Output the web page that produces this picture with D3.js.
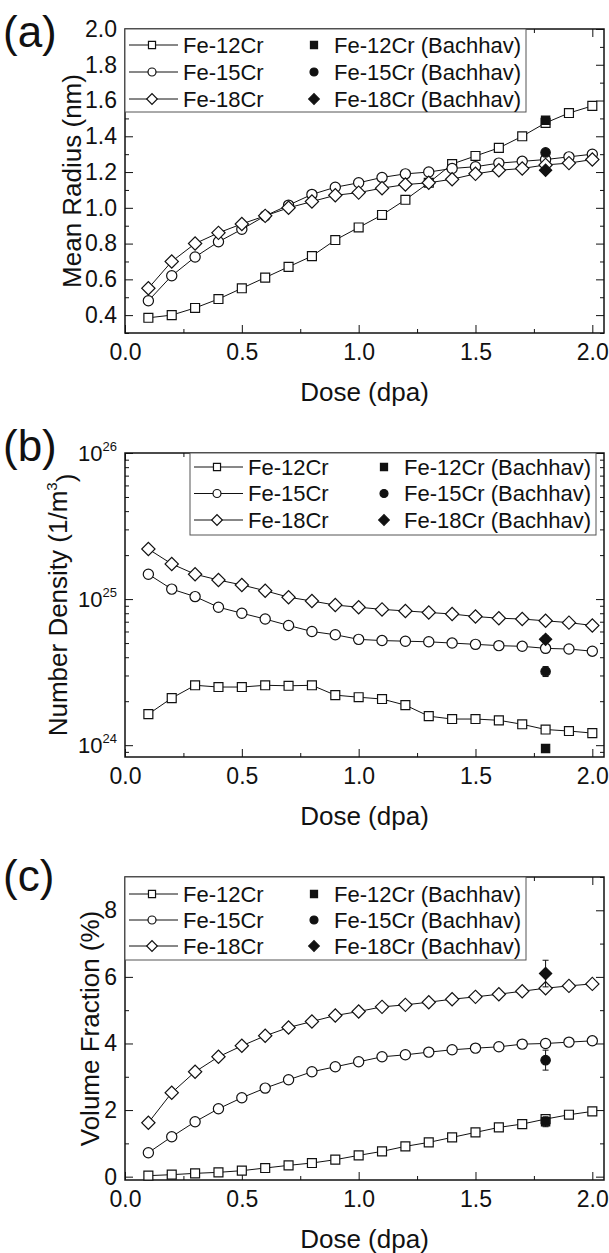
<!DOCTYPE html>
<html>
<head>
<meta charset="utf-8">
<script src="https://cdn.jsdelivr.net/npm/d3@7"></script>
<style>
body { margin: 0; background: #fff; }
svg text { font-family: "Liberation Sans", Arial, sans-serif; fill: #111; }
</style>
</head>
<body>
<script>
/*global d3*/

// dose values shared by all panels
const dose = [0.1, 0.2, 0.3, 0.4, 0.5, 0.6, 0.7, 0.8, 0.9, 1.0, 1.1, 1.2, 1.3, 1.4, 1.5, 1.6, 1.7, 1.8, 1.9, 2.0];
const seriesNames = ["Fe-12Cr", "Fe-15Cr", "Fe-18Cr"];
const bachhavNames = ["Fe-12Cr (Bachhav)", "Fe-15Cr (Bachhav)", "Fe-18Cr (Bachhav)"];
const bachhavDose = 1.8;
const xTicks = [0, 0.5, 1.0, 1.5, 2.0];
const xMinor = [0.25, 0.75, 1.25, 1.75];

// (a) mean radius (nm)
const radius12 = [0.385, 0.40, 0.44, 0.49, 0.55, 0.61, 0.67, 0.73, 0.82, 0.89, 0.96, 1.045, 1.14, 1.245, 1.29, 1.335, 1.40, 1.475, 1.53, 1.57];
const radius15 = [0.48, 0.62, 0.725, 0.81, 0.88, 0.955, 1.015, 1.075, 1.115, 1.14, 1.17, 1.19, 1.20, 1.22, 1.23, 1.25, 1.26, 1.27, 1.285, 1.30];
const radius18 = [0.55, 0.70, 0.80, 0.86, 0.91, 0.955, 1.00, 1.035, 1.07, 1.085, 1.11, 1.13, 1.14, 1.16, 1.19, 1.21, 1.22, 1.24, 1.25, 1.27];
const radiusBachhav = [1.49, 1.31, 1.21];
const radiusTicks = [0.4, 0.6, 0.8, 1.0, 1.2, 1.4, 1.6, 1.8, 2.0];
const radiusMinor = [0.3, 0.5, 0.7, 0.9, 1.1, 1.3, 1.5, 1.7, 1.9];

// (b) number density (1/m^3)
const density12 = [1.63e24, 2.1e24, 2.57e24, 2.5e24, 2.5e24, 2.57e24, 2.55e24, 2.57e24, 2.2e24, 2.13e24, 2.07e24, 1.88e24, 1.58e24, 1.51e24, 1.51e24, 1.48e24, 1.39e24, 1.28e24, 1.25e24, 1.21e24];
const density15 = [1.48e25, 1.17e25, 1.04e25, 8.8e24, 8.0e24, 7.3e24, 6.6e24, 6.0e24, 5.7e24, 5.3e24, 5.2e24, 5.15e24, 5.1e24, 5.0e24, 4.9e24, 4.8e24, 4.75e24, 4.6e24, 4.55e24, 4.4e24];
const density18 = [2.2e25, 1.74e25, 1.48e25, 1.35e25, 1.25e25, 1.14e25, 1.03e25, 9.7e24, 9.1e24, 8.8e24, 8.5e24, 8.3e24, 8.1e24, 7.9e24, 7.6e24, 7.4e24, 7.3e24, 7.1e24, 6.9e24, 6.6e24];
const densityBachhav = [9.5e23, 3.2e24, 5.3e24];
const densityBachhavErr = [0.4e23, 0.25e24, 0.3e24];
const densityTicks = [1e24, 1e25, 1e26];

// (c) volume fraction (%)
const volume12 = [0.03, 0.06, 0.10, 0.13, 0.18, 0.26, 0.34, 0.41, 0.51, 0.64, 0.76, 0.91, 1.03, 1.18, 1.33, 1.48, 1.58, 1.73, 1.86, 1.96];
const volume15 = [0.72, 1.2, 1.65, 2.04, 2.37, 2.66, 2.91, 3.15, 3.3, 3.45, 3.6, 3.66, 3.74, 3.81, 3.86, 3.9, 3.98, 4.0, 4.04, 4.08];
const volume18 = [1.62, 2.52, 3.15, 3.6, 3.93, 4.23, 4.48, 4.66, 4.84, 4.96, 5.1, 5.16, 5.24, 5.33, 5.40, 5.48, 5.57, 5.66, 5.73, 5.79];
const volumeBachhav = [1.65, 3.5, 6.1];
const volumeBachhavErr = [0.15, 0.3, 0.4];
const volumeTicks = [0, 2, 4, 6, 8];
const volumeMinor = [1, 3, 5, 7, 9];

const width = 609, height = 1253;
const svg = d3.select('body').append('svg')
    .attr('width', width)
    .attr('height', height);

const x = d3.scaleLinear().domain([0, 2.05]).range([125, 604]);

// marker for series i (0 square, 1 circle, 2 diamond)
function marker(sel, i, filled, small) {
    const type = i == 1 ? d3.symbolCircle : d3.symbolSquare;
    let size = i == 0 ? 80 : i == 1 ? 82 : 88;
    if (filled) size = size * 0.85;
    if (small) size = i == 2 ? 56 : 50;
    sel.append('path')
        .attr('d', d3.symbol().type(type).size(size))
        .attr('transform', function() {
            const t = d3.select(this.parentNode).attr('data-t') || '';
            return t + (i == 2 ? ' rotate(45)' : '');
        })
        .attr('fill', filled ? '#111' : '#fff')
        .attr('stroke', '#111')
        .attr('stroke-width', 1.2);
}

function drawPanel(p) {
    const g = svg.append('g').attr('color', '#111');
    const y = p.y;
    const bottom = y.range()[0], top = y.range()[1];
    const left = x.range()[0], right = x.range()[1];

    // x axes
    g.append('g').attr('transform', `translate(0,${bottom})`)
        .call(d3.axisBottom(x).tickValues(xTicks).tickSizeInner(-8).tickSizeOuter(0).tickPadding(11).tickFormat(d3.format('.1f')))
        .call(a => a.select('.domain').remove())
        .selectAll('text').attr('font-size', 23);
    g.append('g').attr('transform', `translate(0,${bottom})`)
        .call(d3.axisBottom(x).tickValues(xMinor).tickSizeInner(-4).tickSizeOuter(0).tickFormat(''))
        .call(a => a.select('.domain').remove());
    g.append('g').attr('transform', `translate(0,${top})`)
        .call(d3.axisTop(x).tickValues(xTicks).tickSizeInner(-8).tickSizeOuter(0).tickFormat(''))
        .call(a => a.select('.domain').remove());
    g.append('g').attr('transform', `translate(0,${top})`)
        .call(d3.axisTop(x).tickValues(xMinor).tickSizeInner(-4).tickSizeOuter(0).tickFormat(''))
        .call(a => a.select('.domain').remove());

    // y axes
    const yl = g.append('g').attr('transform', `translate(${left},0)`)
        .call(d3.axisLeft(y).tickValues(p.yTicks).tickSizeInner(-8).tickSizeOuter(0).tickPadding(8).tickFormat(p.fmt))
        .call(a => a.select('.domain').remove());
    yl.selectAll('text').attr('font-size', 23);
    if (p.log) {
        yl.selectAll('.tick text').each(function(d) {
            const t = d3.select(this);
            t.text('10').attr('font-size', 22);
            t.append('tspan').attr('dy', '-0.75em').attr('font-size', 13).text(Math.round(Math.log10(d)));
        });
    }
    g.append('g').attr('transform', `translate(${left},0)`)
        .call(d3.axisLeft(y).tickValues(p.yMinor).tickSizeInner(-4).tickSizeOuter(0).tickFormat(''))
        .call(a => a.select('.domain').remove());
    g.append('g').attr('transform', `translate(${right},0)`)
        .call(d3.axisRight(y).tickValues(p.yTicks).tickSizeInner(-8).tickSizeOuter(0).tickFormat(''))
        .call(a => a.select('.domain').remove());
    g.append('g').attr('transform', `translate(${right},0)`)
        .call(d3.axisRight(y).tickValues(p.yMinor).tickSizeInner(-4).tickSizeOuter(0).tickFormat(''))
        .call(a => a.select('.domain').remove());

    // frame
    g.append('rect')
        .attr('x', left).attr('y', top)
        .attr('width', right - left).attr('height', bottom - top)
        .attr('fill', 'none').attr('stroke', '#111').attr('stroke-width', 1.5);

    // titles
    g.append('text')
        .attr('x', (left + right) / 2).attr('y', bottom + 68)
        .attr('text-anchor', 'middle').attr('font-size', 26)
        .text('Dose (dpa)');
    const yt = g.append('text')
        .attr('transform', `translate(${p.titleX},${(top + bottom) / 2}) rotate(-90)`)
        .attr('text-anchor', 'middle').attr('font-size', 26)
        .text(p.title);
    if (p.titleSup) {
        yt.append('tspan').attr('dy', '-0.7em').attr('font-size', 15).text(p.titleSup);
        yt.append('tspan').attr('dy', '0.7em').text(')');
    }
    g.append('text')
        .attr('x', 3).attr('y', p.labelY)
        .attr('font-size', 44)
        .text(p.label);

    // series lines + markers
    const line = d3.line().x(d => x(d[0])).y(d => y(d[1]));
    p.series.forEach(function(vals, i) {
        const pts = d3.zip(dose, vals);
        g.append('path').datum(pts)
            .attr('d', line)
            .attr('fill', 'none')
            .attr('stroke', '#111')
            .attr('stroke-width', 1);
        g.append('g').selectAll('g')
            .data(pts).join('g')
            .attr('data-t', d => `translate(${x(d[0])},${y(d[1])})`)
            .each(function() { marker(d3.select(this), i, false); });
    });

    // Bachhav points
    p.bachhav.forEach(function(v, i) {
        const cx = x(bachhavDose);
        if (p.err) {
            const e = p.err[i];
            g.append('line')
                .attr('x1', cx).attr('x2', cx)
                .attr('y1', y(v - e)).attr('y2', y(v + e))
                .attr('stroke', '#111').attr('stroke-width', 1);
            [v - e, v + e].forEach(function(ev) {
                g.append('line')
                    .attr('x1', cx - 3).attr('x2', cx + 3)
                    .attr('y1', y(ev)).attr('y2', y(ev))
                    .attr('stroke', '#111').attr('stroke-width', 1);
            });
        }
        const mg = g.append('g').attr('data-t', `translate(${cx},${y(v)})`);
        marker(mg, i, true);
    });

    // legend
    const L = p.legend;
    g.append('rect')
        .attr('x', L.x0).attr('y', L.y0)
        .attr('width', L.x1 - L.x0).attr('height', L.y1 - L.y0)
        .attr('fill', '#fff').attr('stroke', '#555').attr('stroke-width', 1);
    seriesNames.forEach(function(name, i) {
        const ry = L.y0 + L.first + i * L.step;
        g.append('line')
            .attr('x1', L.x0 + 4).attr('x2', L.x0 + 53)
            .attr('y1', ry).attr('y2', ry)
            .attr('stroke', '#111').attr('stroke-width', 1);
        const mg = g.append('g').attr('data-t', `translate(${L.x0 + 27},${ry})`);
        marker(mg, i, false, true);
        g.append('text')
            .attr('x', L.x0 + 58).attr('y', ry).attr('dy', '0.36em')
            .attr('font-size', 22)
            .text(name);
        const bg = g.append('g').attr('data-t', `translate(${L.bx},${ry})`);
        marker(bg, i, true, true);
        g.append('text')
            .attr('x', L.bx + 20).attr('y', ry).attr('dy', '0.36em')
            .attr('font-size', 22)
            .text(bachhavNames[i]);
    });
}

drawPanel({
    y: d3.scaleLinear().domain([0.3, 2.0]).range([333, 29]),
    yTicks: radiusTicks, yMinor: radiusMinor, fmt: d3.format('.1f'),
    title: 'Mean Radius (nm)', titleX: 81,
    label: '(a)', labelY: 47,
    series: [radius12, radius15, radius18],
    bachhav: radiusBachhav, err: null,
    legend: {x0: 125, x1: 526, y0: 29, y1: 112, first: 16, step: 27, bx: 314}
});

const yLog = d3.scaleLog().domain([8.3e23, 1e26]).range([757, 453]);
drawPanel({
    y: yLog, log: true,
    yTicks: densityTicks, yMinor: yLog.ticks().filter(t => Math.abs(Math.log10(t) % 1) > 0.01),
    fmt: () => '',
    title: 'Number Density (1/m', titleSup: '3', titleX: 67,
    label: '(b)', labelY: 461,
    series: [density12, density15, density18],
    bachhav: densityBachhav, err: densityBachhavErr,
    legend: {x0: 190, x1: 596, y0: 453, y1: 535, first: 14, step: 26.5, bx: 384}
});

drawPanel({
    y: d3.scaleLinear().domain([-0.1, 9.0]).range([1180, 877]),
    yTicks: volumeTicks, yMinor: volumeMinor, fmt: d3.format('d'),
    title: 'Volume Fraction (%)', titleX: 99,
    label: '(c)', labelY: 891,
    series: [volume12, volume15, volume18],
    bachhav: volumeBachhav, err: volumeBachhavErr,
    legend: {x0: 125, x1: 526, y0: 877, y1: 960, first: 17, step: 26, bx: 314}
});
</script>
</body>
</html>
